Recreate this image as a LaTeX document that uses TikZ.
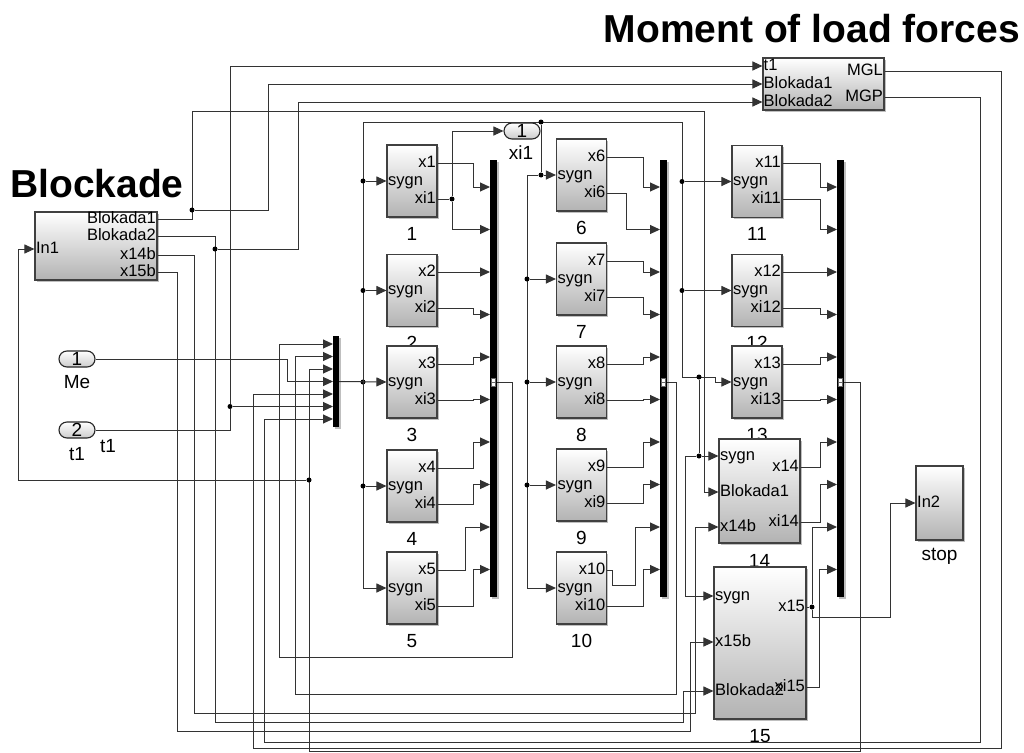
\documentclass[tikz,border=0pt]{standalone}
\usepackage{fontspec}
\setmainfont{Liberation Sans}
\usetikzlibrary{arrows.meta, shadows}

\newcommand{\portfont}{\fontsize{16.5}{18}\selectfont}
\newcommand{\numfont}{\fontsize{19}{21}\selectfont}
\newcommand{\titlefont}{\fontsize{39}{44}\selectfont\bfseries}

% one "sygn" subsystem: name, x, y, index
\newcommand{\sygnblock}[4]{%
  \node[blk, minimum width=50pt, minimum height=72pt] (#1) at (#2,#3) {};
  \coordinate (#1-x) at ([yshift=18pt]#1.east);
  \coordinate (#1-s) at (#1.west);
  \coordinate (#1-i) at ([yshift=-18pt]#1.east);
  \node[lbl, anchor=east] (#1-lx) at (#1-x) {x#4};
  \node[lbl, anchor=west] (#1-ls) at (#1-s) {sygn};
  \node[lbl, anchor=east] (#1-li) at (#1-i) {xi#4};
  \node[num] (#1-n) at ([yshift=-16pt]#1.south) {#4};
}

\begin{document}
\begin{tikzpicture}[x=1pt, y=-1pt,
    wire/.style={draw=black!80, line width=1pt},
    sig/.style={wire, -{Triangle[length=10pt, width=9pt]}},
    blk/.style={draw=black!75, line width=1.1pt, top color=white, bottom color=black!30,
      inner sep=0pt, drop shadow={shadow xshift=1.5pt, shadow yshift=-1.5pt, fill=black!50, opacity=0.5}},
    bar/.style={fill=black, inner sep=0pt, minimum width=7pt,
      drop shadow={shadow xshift=1.5pt, shadow yshift=-1.5pt, fill=black!50, opacity=0.5}},
    outmark/.style={fill=white, draw=black!60, line width=0.4pt, minimum width=4pt,
      minimum height=8pt, inner sep=0pt,
      path picture={\draw[black!60, line width=0.4pt] (path picture bounding box.west) -- (path picture bounding box.east);}},
    jn/.style={circle, fill=black, inner sep=0pt, minimum size=5pt},
    lbl/.style={inner sep=1.5pt, font=\portfont, text height=12pt, text depth=3.5pt},
    num/.style={inner sep=0pt, font=\numfont},
    title/.style={inner sep=0pt, font=\titlefont},
    pill/.style={draw=black!85, line width=1.1pt, rounded corners=8pt, minimum width=36pt,
      minimum height=16pt, inner sep=0pt, top color=white, bottom color=black!20, font=\numfont},
  ]
  \useasboundingbox (0,0) rectangle (1024,752);

  % Titles
  \node[title, anchor=base east] (ttlmom) at (1020,43) {Moment of load forces};
  \node[title, anchor=base west] (ttlblk) at (10,197) {Blockade};

  % Subsystems 1-13
  \foreach \n/\cx/\cy in {1/412/181, 2/412/290.5, 3/412/382, 4/412/486, 5/412/588,
      6/581.5/175, 7/581.5/279, 8/581.5/382, 9/581.5/485, 10/581.5/588,
      11/757/181.5, 12/757/290.5, 13/757/382}
    {\sygnblock{b\n}{\cx}{\cy}{\n}}

  % Subsystem 14
  \node[blk, minimum width=81pt, minimum height=104pt] (b14) at (759.5,491) {};
  \coordinate (b14-s) at ([yshift=35pt]b14.west);
  \coordinate (b14-bl) at ([yshift=-1pt]b14.west);
  \coordinate (b14-xb) at ([yshift=-36pt]b14.west);
  \coordinate (b14-x) at ([yshift=24pt]b14.east);
  \coordinate (b14-i) at ([yshift=-31pt]b14.east);
  \node[lbl, anchor=west] (b14-ls) at (b14-s) {sygn};
  \node[lbl, anchor=west] (b14-lbl) at (b14-bl) {Blokada1};
  \node[lbl, anchor=west] (b14-lxb) at (b14-xb) {x14b};
  \node[lbl, anchor=east] (b14-lx) at (b14-x) {x14};
  \node[lbl, anchor=east] (b14-li) at (b14-i) {xi14};
  \node[num] (b14-n) at ([yshift=-17pt]b14.south) {14};

  % Subsystem 15
  \node[blk, minimum width=92pt, minimum height=152pt] (b15) at (760,643) {};
  \coordinate (b15-s) at ([yshift=47pt]b15.west);
  \coordinate (b15-xb) at ([yshift=1pt]b15.west);
  \coordinate (b15-bl) at ([yshift=-48pt]b15.west);
  \coordinate (b15-x) at ([yshift=36pt]b15.east);
  \coordinate (b15-i) at ([yshift=-44pt]b15.east);
  \node[lbl, anchor=west] (b15-ls) at (b15-s) {sygn};
  \node[lbl, anchor=west] (b15-lxb) at (b15-xb) {x15b};
  \node[lbl, anchor=west] (b15-lbl) at (b15-bl) {Blokada2};
  \node[lbl, anchor=east] (b15-lx) at (b15-x) {x15};
  \node[lbl, anchor=east] (b15-li) at (b15-i) {xi15};
  \node[num] (b15-n) at ([yshift=-16pt]b15.south) {15};

  % Stop
  \node[blk, minimum width=47pt, minimum height=74pt] (stop) at (939.5,503) {};
  \node[lbl, anchor=west] (stop-l) at (stop.west) {In2};
  \node[num] (stop-n) at ([yshift=-16pt]stop.south) {stop};

  % Blockade
  \node[blk, minimum width=122pt, minimum height=68pt] (blockade) at (96,246) {};
  \coordinate (bk1) at ([yshift=27pt]blockade.east);
  \coordinate (bk2) at ([yshift=10pt]blockade.east);
  \coordinate (bk3) at ([yshift=-9pt]blockade.east);
  \coordinate (bk4) at ([yshift=-26pt]blockade.east);
  \coordinate (bkin) at ([yshift=-3pt]blockade.west);
  \node[lbl, anchor=east] (bk1-l) at (bk1) {Blokada1};
  \node[lbl, anchor=east] (bk2-l) at (bk2) {Blokada2};
  \node[lbl, anchor=east] (bk3-l) at (bk3) {x14b};
  \node[lbl, anchor=east] (bk4-l) at (bk4) {x15b};
  \node[lbl, anchor=west] (bkin-l) at (bkin) {In1};

  % Moment of load forces
  \node[blk, minimum width=121pt, minimum height=52pt] (moment) at (823.5,84) {};
  \coordinate (mi1) at ([yshift=18pt]moment.west);
  \coordinate (mi2) at (moment.west);
  \coordinate (mi3) at ([yshift=-18pt]moment.west);
  \coordinate (mo1) at ([yshift=13pt]moment.east);
  \coordinate (mo2) at ([yshift=-13pt]moment.east);
  \node[lbl, anchor=west, inner sep=1pt] (mi1-l) at (mi1) {t1};
  \node[lbl, anchor=west, inner sep=1pt] (mi2-l) at (mi2) {Blokada1};
  \node[lbl, anchor=west, inner sep=1pt] (mi3-l) at (mi3) {Blokada2};
  \node[lbl, anchor=east] (mo1-l) at (mo1) {MGL};
  \node[lbl, anchor=east] (mo2-l) at (mo2) {MGP};

  % Ports
  \node[pill] (pMe) at (77,359) {1};
  \node[num] (pMe-l) at (77,382) {Me};
  \node[pill] (pt1) at (77,430) {2};
  \node[num] (pt1-l) at (77,454) {t1};
  \node[num] (t1sig) at (108,446) {t1};
  \node[pill] (pxi1) at (522,131) {1};
  \node[num] (pxi1-l) at (521,153) {xi1};

  % Bus bars
  \foreach \bn/\bx in {A/490, B/660, C/837} {
    \node[bar, minimum height=437pt, anchor=north west] (bar\bn) at (\bx,160) {};
    \foreach \k in {1,...,10}
      \coordinate (\bn\k) at (\bx,{187+42.5*(\k-1)});
    \coordinate (\bn-out) at (\bx+7,382);
    \node[outmark] (\bn-mark) at (\bx+3.5,382) {};
  }
  \node[bar, minimum width=6pt, minimum height=91pt, anchor=north west] (mux) at (333,336) {};
  \foreach \k in {1,...,7}
    \coordinate (M\k) at (333,{344+12.5*(\k-1)});
  \coordinate (mux-out) at (339,381.5);

  % Outputs into the bus bars
  \foreach \s/\d/\dx in {b1-x/A1/17, b2-x/A3/17, b2-i/A4/17, b3-x/A5/17, b3-i/A6/17,
      b4-x/A7/17, b4-i/A8/17, b5-x/A9/25, b5-i/A10/17,
      b6-x/B1/17, b6-i/B2/34, b7-x/B3/17, b7-i/B4/17, b8-x/B5/17, b8-i/B6/17,
      b9-x/B7/17, b9-i/B8/17, b10-i/B10/17,
      b11-x/C1/17, b11-i/C2/17, b12-x/C3/17, b12-i/C4/17, b13-x/C5/17, b13-i/C6/17,
      b14-x/C7/17, b14-i/C8/17, b15-i/C10/18}
    \draw[sig] (\s) -| ([xshift=-\dx pt]\d) -- (\d);
  \draw[sig] (b10-x) -- (612,570) -- (612,585) -- (635,585) |- (B9);
  \node[jn] (jxi1) at (452,199) {};
  \draw[wire] (b1-i) -- (jxi1);
  \draw[sig] (jxi1) |- (pxi1.west);
  \draw[sig] (jxi1) |- (A2);
  \node[jn] (jx15) at (812,607) {};
  \draw[wire] (b15-x) -- (jx15);
  \draw[sig] (jx15) |- (C9);
  \draw[sig] (jx15) -- (812,617) -- (890,617) |- (stop.west);

  % Feedback loops into the mux
  \draw[sig] (A-out) -| (512,657) -- (279,657) |- (M1);
  \draw[sig] (B-out) -| (676,694) -- (295,694) |- (M2);
  \draw[sig] (C-out) -| (860,751) -- (309,751) |- (M3);
  \node[jn] (j309) at (309,480) {};
  \draw[sig] (j309) -- (18,480) |- (bkin);
  \draw[sig] (pMe.east) -- (287,359) |- (M4);
  \draw[sig] (mo1) -| (1001,748) -- (253,748) |- (M5);
  \node[jn] (jt1) at (230,406.5) {};
  \draw[wire] (pt1.east) -| (jt1);
  \draw[sig] (jt1) -- (M6);
  \draw[sig] (jt1) |- (mi1);
  \draw[sig] (mo2) -| (980,742) -- (264,742) |- (M7);

  % sygn distribution
  \node[jn] (jA) at (363,382) {};
  \draw[sig] (mux-out) -- (b3-s);
  \coordinate (jtop) at (363,122);
  \coordinate (jtopR) at (682,122);
  \draw[sig] (jtop) |- (b5-s);
  \draw[wire] (jtop) -- (jtopR);
  \foreach \n in {1,2,4} {
    \node[jn] (jl\n) at (jtop |- b\n-s) {};
    \draw[sig] (jl\n) -- (b\n-s);
  }
  \node[jn] (jb) at (541,122) {};
  \node[jn] (jb6) at (jb |- b6-s) {};
  \draw[wire] (jb) -- (jb6);
  \draw[sig] (jb6) -- (b6-s);
  \coordinate (cB) at (527,175);
  \draw[sig] (jb6) -- (cB) |- (b10-s);
  \foreach \n in {7,8,9} {
    \node[jn] (jB\n) at (cB |- b\n-s) {};
    \draw[sig] (jB\n) -- (b\n-s);
  }
  \draw[sig] (jtopR) -- (682,377) -| (715,382) -- (b13-s);
  \foreach \n in {11,12} {
    \node[jn] (jr\n) at (jtopR |- b\n-s) {};
    \draw[sig] (jr\n) -- (b\n-s);
  }
  \node[jn] (j699) at (699,377) {};
  \node[jn] (j14s) at (j699 |- b14-s) {};
  \draw[sig] (j699) -- (j14s) -- (b14-s);
  \draw[sig] (j14s) -- (685,456) |- (b15-s);

  % Blockade outputs
  \draw[sig] (bk1) -| (192,111) -- (704,111) |- (b14-bl);
  \node[jn] (jbk1) at (192,210) {};
  \draw[sig] (jbk1) -- (268,210) |- (mi2);
  \draw[sig] (bk2) -| (215,722) -- (683,722) |- (b15-bl);
  \node[jn] (jbk2) at (215,249) {};
  \draw[sig] (jbk2) -- (298,249) |- (mi3);
  \draw[sig] (bk3) -| (194,713) -- (695,713) |- (b14-xb);
  \draw[sig] (bk4) -| (177,731) -- (690,731) |- (b15-xb);
\end{tikzpicture}
\end{document}
